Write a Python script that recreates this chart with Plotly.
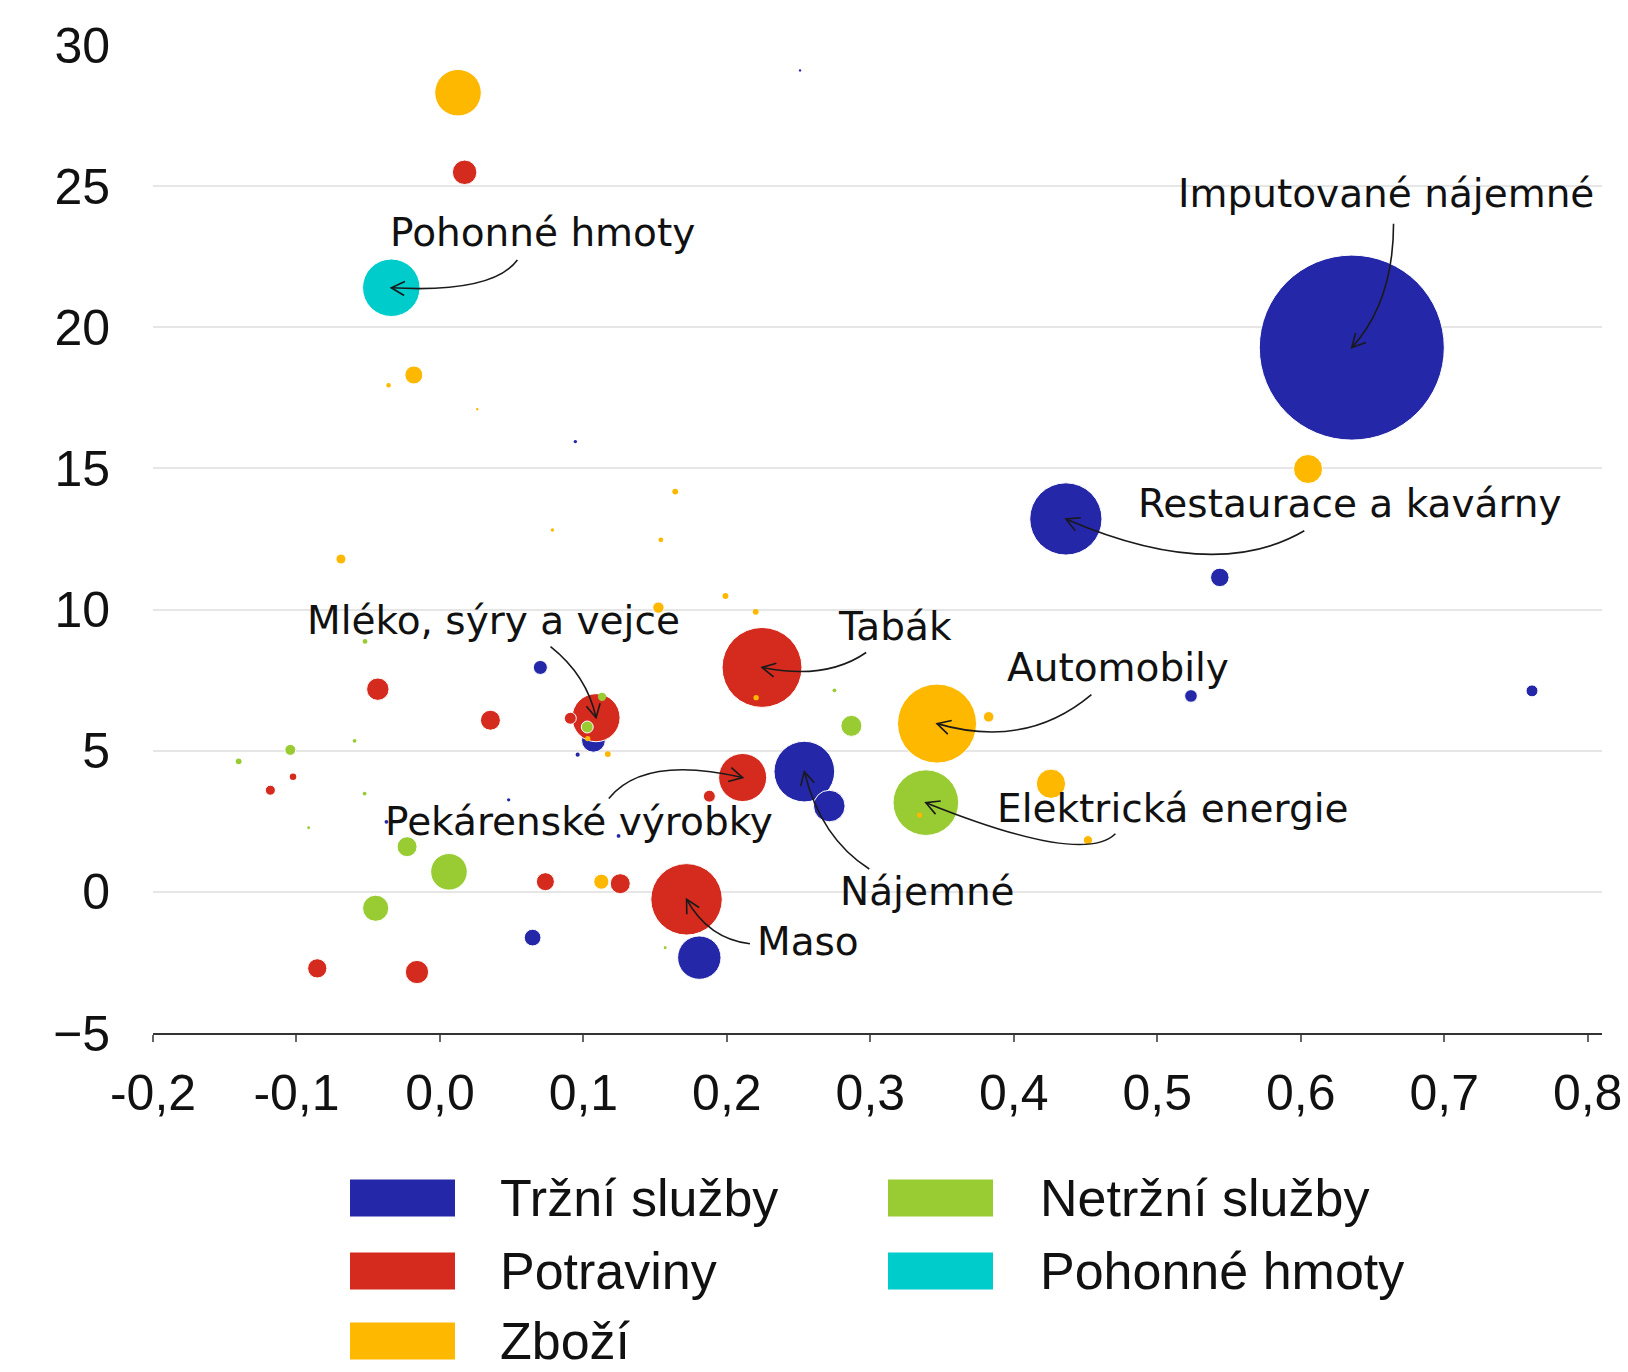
import math
import plotly.graph_objects as go

# ---------------- data ----------------
x_ticks = [-0.2, -0.1, 0.0, 0.1, 0.2, 0.3, 0.4, 0.5, 0.6, 0.7, 0.8]
x_ticklabels = ["-0,2", "-0,1", "0,0", "0,1", "0,2", "0,3", "0,4", "0,5", "0,6", "0,7", "0,8"]
y_ticks = [-5, 0, 5, 10, 15, 20, 25, 30]
y_ticklabels = ["\u22125", "0", "5", "10", "15", "20", "25", "30"]

# Tržní služby
trzni_x = [0.6356, 0.4363, 0.254, 0.2714, 0.1808, 0.5436, 0.5235, 0.7612, 0.070, 0.0646,
           0.107, 0.6003, 0.0944, 0.096, 0.0479, 0.1245, -0.0188, -0.0373, 0.1744, 0.251]
trzni_y = [19.28, 13.21, 4.26, 3.04, -2.33, 11.14, 6.94, 7.12, 7.95, -1.62,
           5.37, 17.52, 15.95, 4.86, 3.26, 1.98, 1.54, 2.48, -1.88, 29.1]
trzni_w = [120, 18.3, 12.9, 3.5, 6.6, 1.2, 0.56, 0.5, 0.69, 0.98,
           2.0, 0.28, 0.04, 0.06, 0.04, 0.05, 0.06, 0.05, 0.05, 0.02]
trzni_names = ["Imputované nájemné", "Restaurace a kavárny", "Nájemné"] + [""] * 17

# Potraviny
potr_x = [0.2245, 0.1719, 0.1088, 0.211, 0.0172, -0.0433, 0.0352, 0.0909, 0.1878, -0.1182,
          -0.1024, 0.0735, 0.1257, -0.0855, -0.016]
potr_y = [7.95, -0.265, 6.17, 4.05, 25.49, 7.18, 6.08, 6.15, 3.39, 3.6,
          4.08, 0.36, 0.29, -2.71, -2.84]
potr_w = [22.4, 17.9, 8.1, 8.1, 2.1, 1.76, 1.4, 0.5, 0.5, 0.35,
          0.15, 1.14, 1.4, 1.3, 1.9]
potr_names = ["Tabák", "Maso", "Mléko, sýry a vejce", "Pekárenské výrobky"] + [""] * 11

# Netržní služby
netrzni_x = [0.3387, 0.2868, 0.0063, -0.0448, -0.0229, -0.1043, -0.1403, -0.0522, -0.0595, 0.275,
             0.113, 0.1027, -0.0525, -0.0915, 0.157]
netrzni_y = [3.16, 5.88, 0.71, -0.58, 1.60, 5.03, 4.62, 8.87, 5.35, 7.14,
             6.91, 5.84, 3.48, 2.27, -1.98]
netrzni_w = [15.1, 1.55, 4.7, 2.4, 1.4, 0.42, 0.12, 0.08, 0.05, 0.05,
             0.24, 0.5, 0.05, 0.03, 0.03]
netrzni_names = ["Elektrická energie"] + [""] * 14

# Zboží
zbozi_x = [0.3465, 0.0126, -0.0182, 0.6051, 0.4259, 0.1125, 0.4517, 0.3825, -0.069, 0.1523,
           0.199, 0.2201, 0.164, 0.154, 0.0784, -0.0358, 0.026, 0.3343, 0.2204, 0.103, 0.117]
zbozi_y = [5.96, 28.31, 18.31, 14.98, 3.83, 0.36, 1.83, 6.2, 11.79, 10.07,
           10.48, 9.92, 14.18, 12.47, 12.82, 17.95, 17.1, 2.72, 6.88, 5.43, 4.88]
zbozi_w = [21.9, 7.6, 1.14, 2.95, 3.0, 0.8, 0.3, 0.39, 0.35, 0.45,
           0.12, 0.12, 0.12, 0.08, 0.04, 0.07, 0.02, 0.1, 0.1, 0.1, 0.12]
zbozi_names = ["Automobily"] + [""] * 20

# Pohonné hmoty
pohon_x = [-0.0339]
pohon_y = [21.40]
pohon_w = [11.6]
pohon_names = ["Pohonné hmoty"]

categories = ["Tržní služby", "Potraviny", "Zboží", "Netržní služby", "Pohonné hmoty"]
colors = {
    "Tržní služby": "#2427a8",
    "Potraviny": "#d52b1e",
    "Zboží": "#ffb800",
    "Netržní služby": "#99cc33",
    "Pohonné hmoty": "#00cccc",
}

series = {
    "Tržní služby": (trzni_x, trzni_y, trzni_w, trzni_names),
    "Potraviny": (potr_x, potr_y, potr_w, potr_names),
    "Netržní služby": (netrzni_x, netrzni_y, netrzni_w, netrzni_names),
    "Zboží": (zbozi_x, zbozi_y, zbozi_w, zbozi_names),
    "Pohonné hmoty": (pohon_x, pohon_y, pohon_w, pohon_names),
}
draw_order = ["Tržní služby", "Potraviny", "Netržní služby", "Zboží", "Pohonné hmoty"]

# annotation layout: text position, tail of connector, curve control point (data units)
annotations_spec = [
    ("Pohonné hmoty", (0.0713, 23.37), (0.054, 22.38), (0.0366, 21.2)),
    ("Imputované nájemné", (0.6596, 24.73), (0.6647, 23.67), (0.6647, 20.9)),
    ("Restaurace a kavárny", (0.6343, 13.77), (0.6025, 12.79), (0.540, 10.93)),
    ("Tabák", (0.3174, 9.39), (0.2971, 8.48), (0.2689, 7.49)),
    ("Automobily", (0.4729, 7.95), (0.4541, 6.99), (0.4085, 5.04)),
    ("Elektrická energie", (0.5113, 2.94), (0.4708, 2.06), (0.4483, 0.92)),
    ("Nájemné", (0.3398, 0.0), (0.2993, 0.81), (0.2653, 1.91)),
    ("Maso", (0.2566, -1.77), (0.2161, -1.84), (0.1871, -1.66)),
    ("Pekárenské výrobky", (0.0967, 2.50), (0.1177, 3.31), (0.1423, 4.86)),
    ("Mléko, sýry a vejce", (0.0373, 9.61), (0.0771, 8.69), (0.1025, 7.67)),
]

legend_cols = [["Tržní služby", "Potraviny", "Zboží"], ["Netržní služby", "Pohonné hmoty"]]

# ---------------- layout geometry ----------------
W, H = 1628, 1372
ML, MR, MT, MB = 153, 26, 45, 339
PW, PH = W - ML - MR, H - MT - MB
XMIN, XMAX = -0.2, 0.81
YMIN, YMAX = -5, 30
PX_X = PW / (XMAX - XMIN)
PX_Y = PH / (YMAX - YMIN)

MAX_DIAM = 185
all_w = [w for c in series.values() for w in c[2]]
sizeref = 2.0 * max(all_w) / (MAX_DIAM ** 2)

fig = go.Figure()
for cat in draw_order:
    xs, ys, ws, names = series[cat]
    fig.add_trace(go.Scatter(
        x=xs, y=ys, mode="markers", name=cat,
        text=names, hoverinfo="skip",
        marker=dict(
            size=ws, sizemode="area", sizeref=sizeref, sizemin=0,
            color=colors[cat], opacity=1,
            line=dict(color="white", width=[1.0 if w >= 0.3 else 0 for w in ws]),
        ),
        cliponaxis=False,
    ))


def find_point(label):
    for cat in draw_order:
        xs, ys, ws, names = series[cat]
        if label in names:
            i = names.index(label)
            return xs[i], ys[i]
    return None


shapes = []
annots = []
ARM = 15
ANG = math.radians(28)
for label, txy, tail, ctrl in annotations_spec:
    hx, hy = find_point(label)
    annots.append(dict(
        x=txy[0], y=txy[1], xref="x", yref="y", text=label, showarrow=False,
        xanchor="center", yanchor="middle",
        font=dict(family="DejaVu Sans", size=39, color="#111111"),
    ))
    shapes.append(dict(
        type="path", xref="x", yref="y", layer="above",
        path=f"M {tail[0]},{tail[1]} Q {ctrl[0]},{ctrl[1]} {hx},{hy}",
        line=dict(color="#1a1a1a", width=1.6),
    ))
    # arrow head in pixel space
    dx = (hx - ctrl[0]) * PX_X
    dy = -(hy - ctrl[1]) * PX_Y
    n = math.hypot(dx, dy) or 1.0
    ux, uy = dx / n, dy / n
    pts = []
    for s in (1, -1):
        ca, sa = math.cos(s * ANG), math.sin(s * ANG)
        rx = ux * ca - uy * sa
        ry = ux * sa + uy * ca
        px = -rx * ARM
        py = -ry * ARM
        pts.append((hx + px / PX_X, hy - py / PX_Y))
    shapes.append(dict(
        type="path", xref="x", yref="y", layer="above",
        path=f"M {pts[0][0]},{pts[0][1]} L {hx},{hy} L {pts[1][0]},{pts[1][1]}",
        line=dict(color="#1a1a1a", width=1.6),
    ))


# ---------------- manual legend ----------------
def px2paper_x(px):
    return (px - ML) / PW


def px2paper_y(py):
    return (MT + PH - py) / PH


col_rect_x = [(350, 455), (888, 993)]
col_text_x = [498, 1038]
row_y = [1198, 1271, 1341]
RECT_H = 37
for ci, col in enumerate(legend_cols):
    for ri, cat in enumerate(col):
        yc = row_y[ri]
        shapes.append(dict(
            type="rect", xref="paper", yref="paper",
            x0=px2paper_x(col_rect_x[ci][0]), x1=px2paper_x(col_rect_x[ci][1]),
            y0=px2paper_y(yc + RECT_H / 2), y1=px2paper_y(yc - RECT_H / 2),
            fillcolor=colors[cat], line=dict(width=0),
        ))
        annots.append(dict(
            x=px2paper_x(col_text_x[ci]), y=px2paper_y(yc), xref="paper", yref="paper",
            text=cat, showarrow=False, xanchor="left", yanchor="middle",
            font=dict(family="Liberation Sans, Arial", size=52, color="#111111"),
        ))

fig.update_layout(
    width=W, height=H,
    margin=dict(l=ML, r=MR, t=MT, b=MB, autoexpand=False),
    paper_bgcolor="white", plot_bgcolor="white",
    showlegend=False,
    shapes=shapes, annotations=annots,
    font=dict(family="Liberation Sans, Arial", color="#111111"),
)
fig.update_xaxes(
    range=[XMIN, XMAX], tickvals=x_ticks, ticktext=x_ticklabels,
    showgrid=False, zeroline=False, automargin=False,
    showline=True, linecolor="#333333", linewidth=2,
    ticks="outside", ticklen=7, tickwidth=1.5, tickcolor="#666666",
    tickfont=dict(family="Liberation Sans, Arial", size=50, color="#111111"),
    ticklabelstandoff=8,
)
fig.update_yaxes(
    range=[YMIN, YMAX], tickvals=y_ticks, ticktext=y_ticklabels,
    showgrid=True, gridcolor="#e6e6e6", gridwidth=2,
    zeroline=False, showline=False, ticks="", automargin=False,
    tickfont=dict(family="Liberation Sans, Arial", size=50, color="#111111"),
    ticklabelstandoff=42,
)

fig.write_html(
    "out.html",
    config={"displayModeBar": False},
    post_script="document.body.style.margin='0';document.body.style.overflow='hidden';",
)
